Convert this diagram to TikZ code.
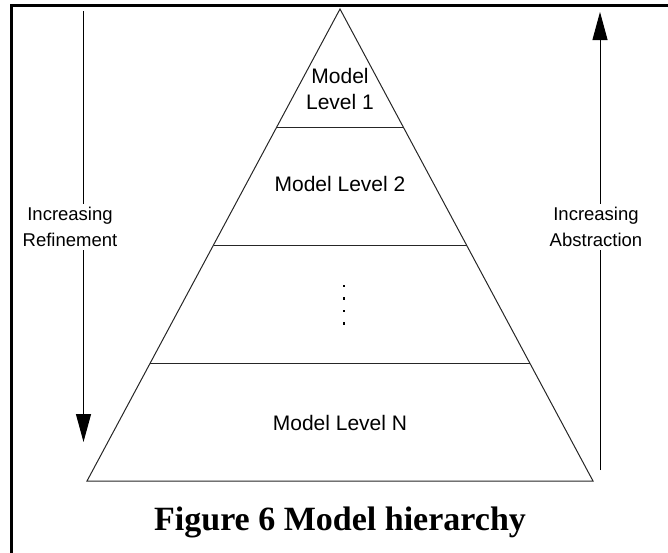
\documentclass[tikz,border=0pt]{standalone}
\usepackage{fontspec}
\setmainfont{Liberation Serif}
\newfontfamily\arial{Liberation Sans}
\usetikzlibrary{arrows.meta,calc}
\begin{document}
\begin{tikzpicture}[x=1pt,y=-1pt,
  frameline/.style={line width=3pt,line cap=rect},
  pyrline/.style={line width=1pt,draw=black!85},
  levellabel/.style={font=\arial\fontsize{21}{26}\selectfont,align=center,inner sep=0pt},
  sidelabel/.style={font=\arial\fontsize{18.5}{26}\selectfont,align=center,fill=white,inner xsep=1pt,inner ysep=3pt},
  bigarrow/.style={line width=1pt,-{Triangle[length=28pt,width=15pt]}},
  dotmark/.style={fill=black,inner sep=0pt,minimum size=2.5pt}]
\useasboundingbox (0,0) rectangle (668,552);
% outer frame (top and left edges)
\draw[frameline] (11.5,553) -- (11.5,5.5) -- (670,5.5);
% pyramid outline
\coordinate (apex) at (340,9);
\coordinate (bl) at (87,481);
\coordinate (br) at (593,481);
\draw[pyrline,line join=miter] (apex) -- (bl) -- (br) -- cycle;
% level separators
\foreach \t/\n in {0.25/a,0.5/b,0.75/c}{
  \coordinate (l\n) at ($(apex)!\t!(bl)$);
  \coordinate (r\n) at ($(apex)!\t!(br)$);
  \draw[pyrline] (l\n) -- (r\n);
}
% level labels
\node[levellabel] (lev1) at (340,89) {Model\\Level 1};
\node[levellabel] (lev2) at (340,184) {Model Level 2};
\node[levellabel] (levN) at (340,423) {Model Level N};
% vertical ellipsis
\foreach \y/\k in {286/1,298.5/2,311/3,323.5/4}{
  \node[dotmark] (dot\k) at (344,\y) {};
}
% side arrows, drawn under their labels
\coordinate (reftop) at (83.5,11);
\coordinate (refbot) at (83.5,442);
\draw[bigarrow] (reftop) -- (refbot);
\coordinate (absbot) at (600,470);
\coordinate (abstop) at (600,12);
\draw[bigarrow] (absbot) -- (abstop);
\node[sidelabel] (refine) at (70,227) {Increasing\\Refinement};
\node[sidelabel] (abstr) at (596,227) {Increasing\\Abstraction};
% caption
\node[font=\bfseries\fontsize{34}{40}\selectfont,inner sep=0pt] (caption) at (340,522) {Figure 6 Model hierarchy};
\end{tikzpicture}
\end{document}
